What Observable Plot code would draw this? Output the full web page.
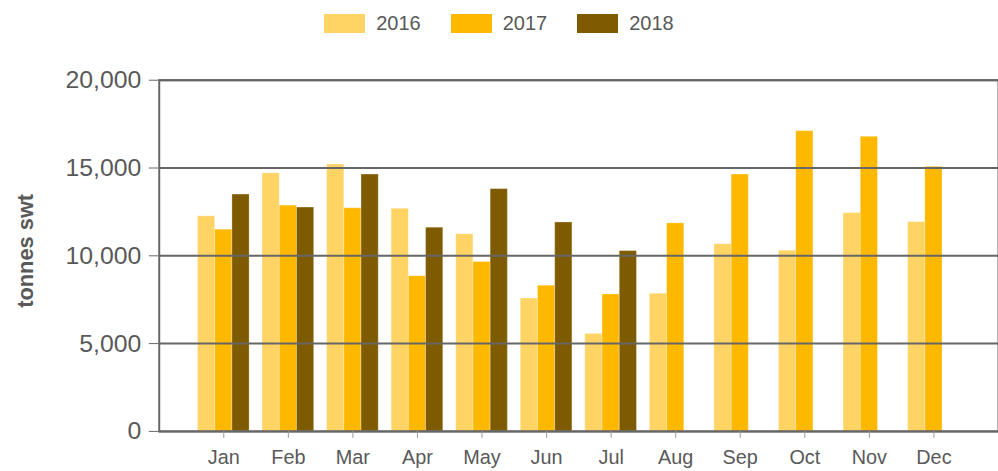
<!DOCTYPE html>
<html><head><meta charset="utf-8">
<script src="https://cdn.jsdelivr.net/npm/d3@7"></script>
<script src="https://cdn.jsdelivr.net/npm/@observablehq/plot@0.6"></script>
<style>
html,body{margin:0;padding:0;overflow:hidden;background:#fff;width:998px;height:471px}
#legend{height:46px;width:998px;display:flex;justify-content:center;align-items:center;font-family:"Liberation Sans",Arial,sans-serif;font-size:20px;color:#595959}
.item{display:flex;align-items:center;margin:0 15px}
.sw{width:41px;height:19px;margin-right:11px}
#chart svg{display:block}
</style></head><body>
<div id="legend"></div><div id="chart"></div>
<script>
const months = ["Jan","Feb","Mar","Apr","May","Jun","Jul","Aug","Sep","Oct","Nov","Dec"];
const years = ["2016","2017","2018"];
const v2016 = [12250, 14700, 15200, 12680, 11230, 7570, 5550, 7840, 10660, 10290, 12430, 11920];
const v2017 = [11490, 12860, 12710, 8840, 9650, 8300, 7800, 11850, 14630, 17100, 16780, 15070];
const v2018 = [13490, 12750, 14630, 11600, 13800, 11900, 10270, null, null, null, null, null];
const yTicks = [0, 5000, 10000, 15000, 20000];
const yLabel = "tonnes swt";
const colors = ["#FFD464", "#FFB800", "#7F5B00"];

const series = [v2016, v2017, v2018];
const rows = [];
years.forEach((yr, i) => months.forEach((m, j) => {
  if (series[i][j] != null) rows.push({month: m, year: yr, value: series[i][j]});
}));

// legend
const lg = document.getElementById("legend");
years.forEach((yr, i) => {
  const it = document.createElement("div"); it.className = "item";
  const sw = document.createElement("div"); sw.className = "sw"; sw.style.background = colors[i];
  const tx = document.createElement("span"); tx.textContent = yr;
  it.appendChild(sw); it.appendChild(tx); lg.appendChild(it);
});

const W = 1006, ML = 160, MR = 0, PI = 0.2, PO = 0.6;
const step = (W - ML - MR) / (months.length - PI + 2 * PO);
const third = step * (1 - PI) / 3;

const barMarks = years.map((yr, i) => Plot.barY(rows.filter(r => r.year === yr), {
  x: "month", y: "value", fill: colors[i],
  stroke: "#fff", strokeOpacity: 0.3, strokeWidth: 1,
  insetLeft: i * third, insetRight: (2 - i) * third
}));

const chart = Plot.plot({
  width: W, height: 425,
  marginLeft: ML, marginRight: MR, marginTop: 34, marginBottom: 37,
  style: {fontFamily: "'Liberation Sans', Arial, sans-serif", background: "#fff"},
  x: {domain: months, paddingInner: PI, paddingOuter: PO, round: false, label: null},
  y: {domain: [0, 20000], label: null},
  marks: [
    ...barMarks,
    Plot.ruleY(yTicks, {stroke: "#666", strokeWidth: 2}),
    Plot.frame({stroke: "#666", strokeWidth: 2}),
    Plot.axisY(yTicks, {tickSize: 10, tickPadding: 8, fontSize: 25, stroke: "#666", fill: "#595959", tickFormat: d3.format(","), label: null}),
    Plot.axisX({tickSize: 7, tickPadding: 12, fontSize: 20, stroke: "#999", fill: "#595959", label: null}),
    Plot.text([yLabel], {text: d => d, frameAnchor: "left", textAnchor: "middle", rotate: -90, dx: -134, dy: -5, fontSize: 22, fontWeight: "bold", fill: "#595959"})
  ]
});
document.getElementById("chart").appendChild(chart);
</script>
</body></html>
